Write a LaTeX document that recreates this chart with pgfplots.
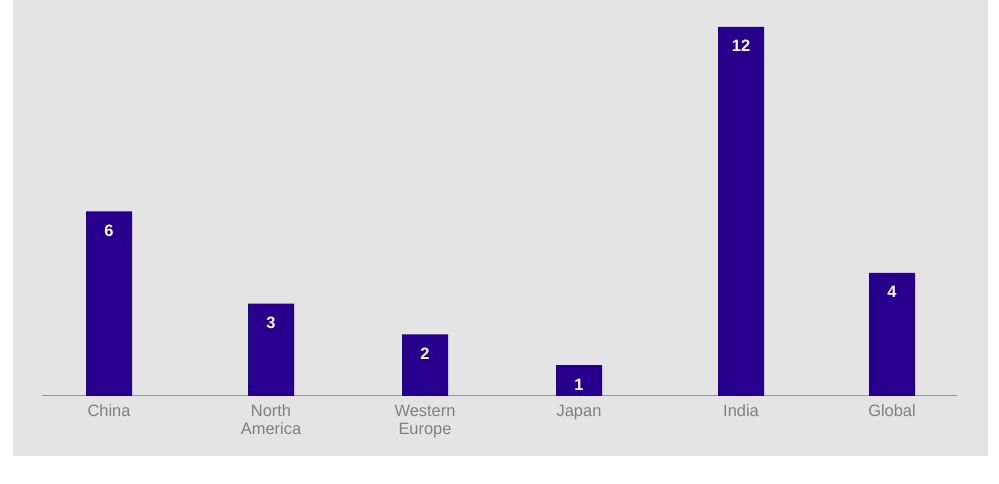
\documentclass[border=0pt]{standalone}
\usepackage{fontspec}
\setmainfont{Liberation Sans}
\usepackage{pgfplots}
\pgfplotsset{compat=1.18}
\definecolor{bgc}{RGB}{228,228,228}
\definecolor{barc}{RGB}{38,0,140}
\definecolor{labc}{RGB}{128,128,128}
\definecolor{axlc}{RGB}{150,150,150}
\begin{document}
\begin{tikzpicture}[x=1bp,y=1bp]
\fill[white] (0,0) rectangle (999,484);
\fill[bgc] (13,28) rectangle (988,484);
\begin{axis}[
  at={(42bp,88bp)}, anchor=south west,
  width=915bp, height=369bp, scale only axis,
  xmin=42, xmax=957, ymin=0, ymax=12,
  axis x line*=bottom, axis y line=none,
  x axis line style={draw=axlc, line width=1bp},
  xtick={109,271,425,579,741,892},
  xticklabels={China, North\\America, Western\\Europe, Japan, India, Global},
  typeset ticklabels with strut,
  major tick length=0pt,
  xticklabel style={font=\fontsize{16.5}{18}\selectfont, text=labc, align=center, anchor=north, inner sep=0pt, yshift=-8bp},
  ytick=\empty,
  /pgf/number format/assume math mode=true,
  ybar, bar width=46bp,
  nodes near coords,
  every node near coord/.append style={font=\fontsize{16.5}{18}\selectfont\bfseries, text=white, anchor=base, yshift=-25bp},
  clip=false,
]
\addplot[fill=barc, draw=none] coordinates {(109,6) (271,3) (425,2) (579,1) (741,12) (892,4)};
\end{axis}
\end{tikzpicture}
\end{document}
